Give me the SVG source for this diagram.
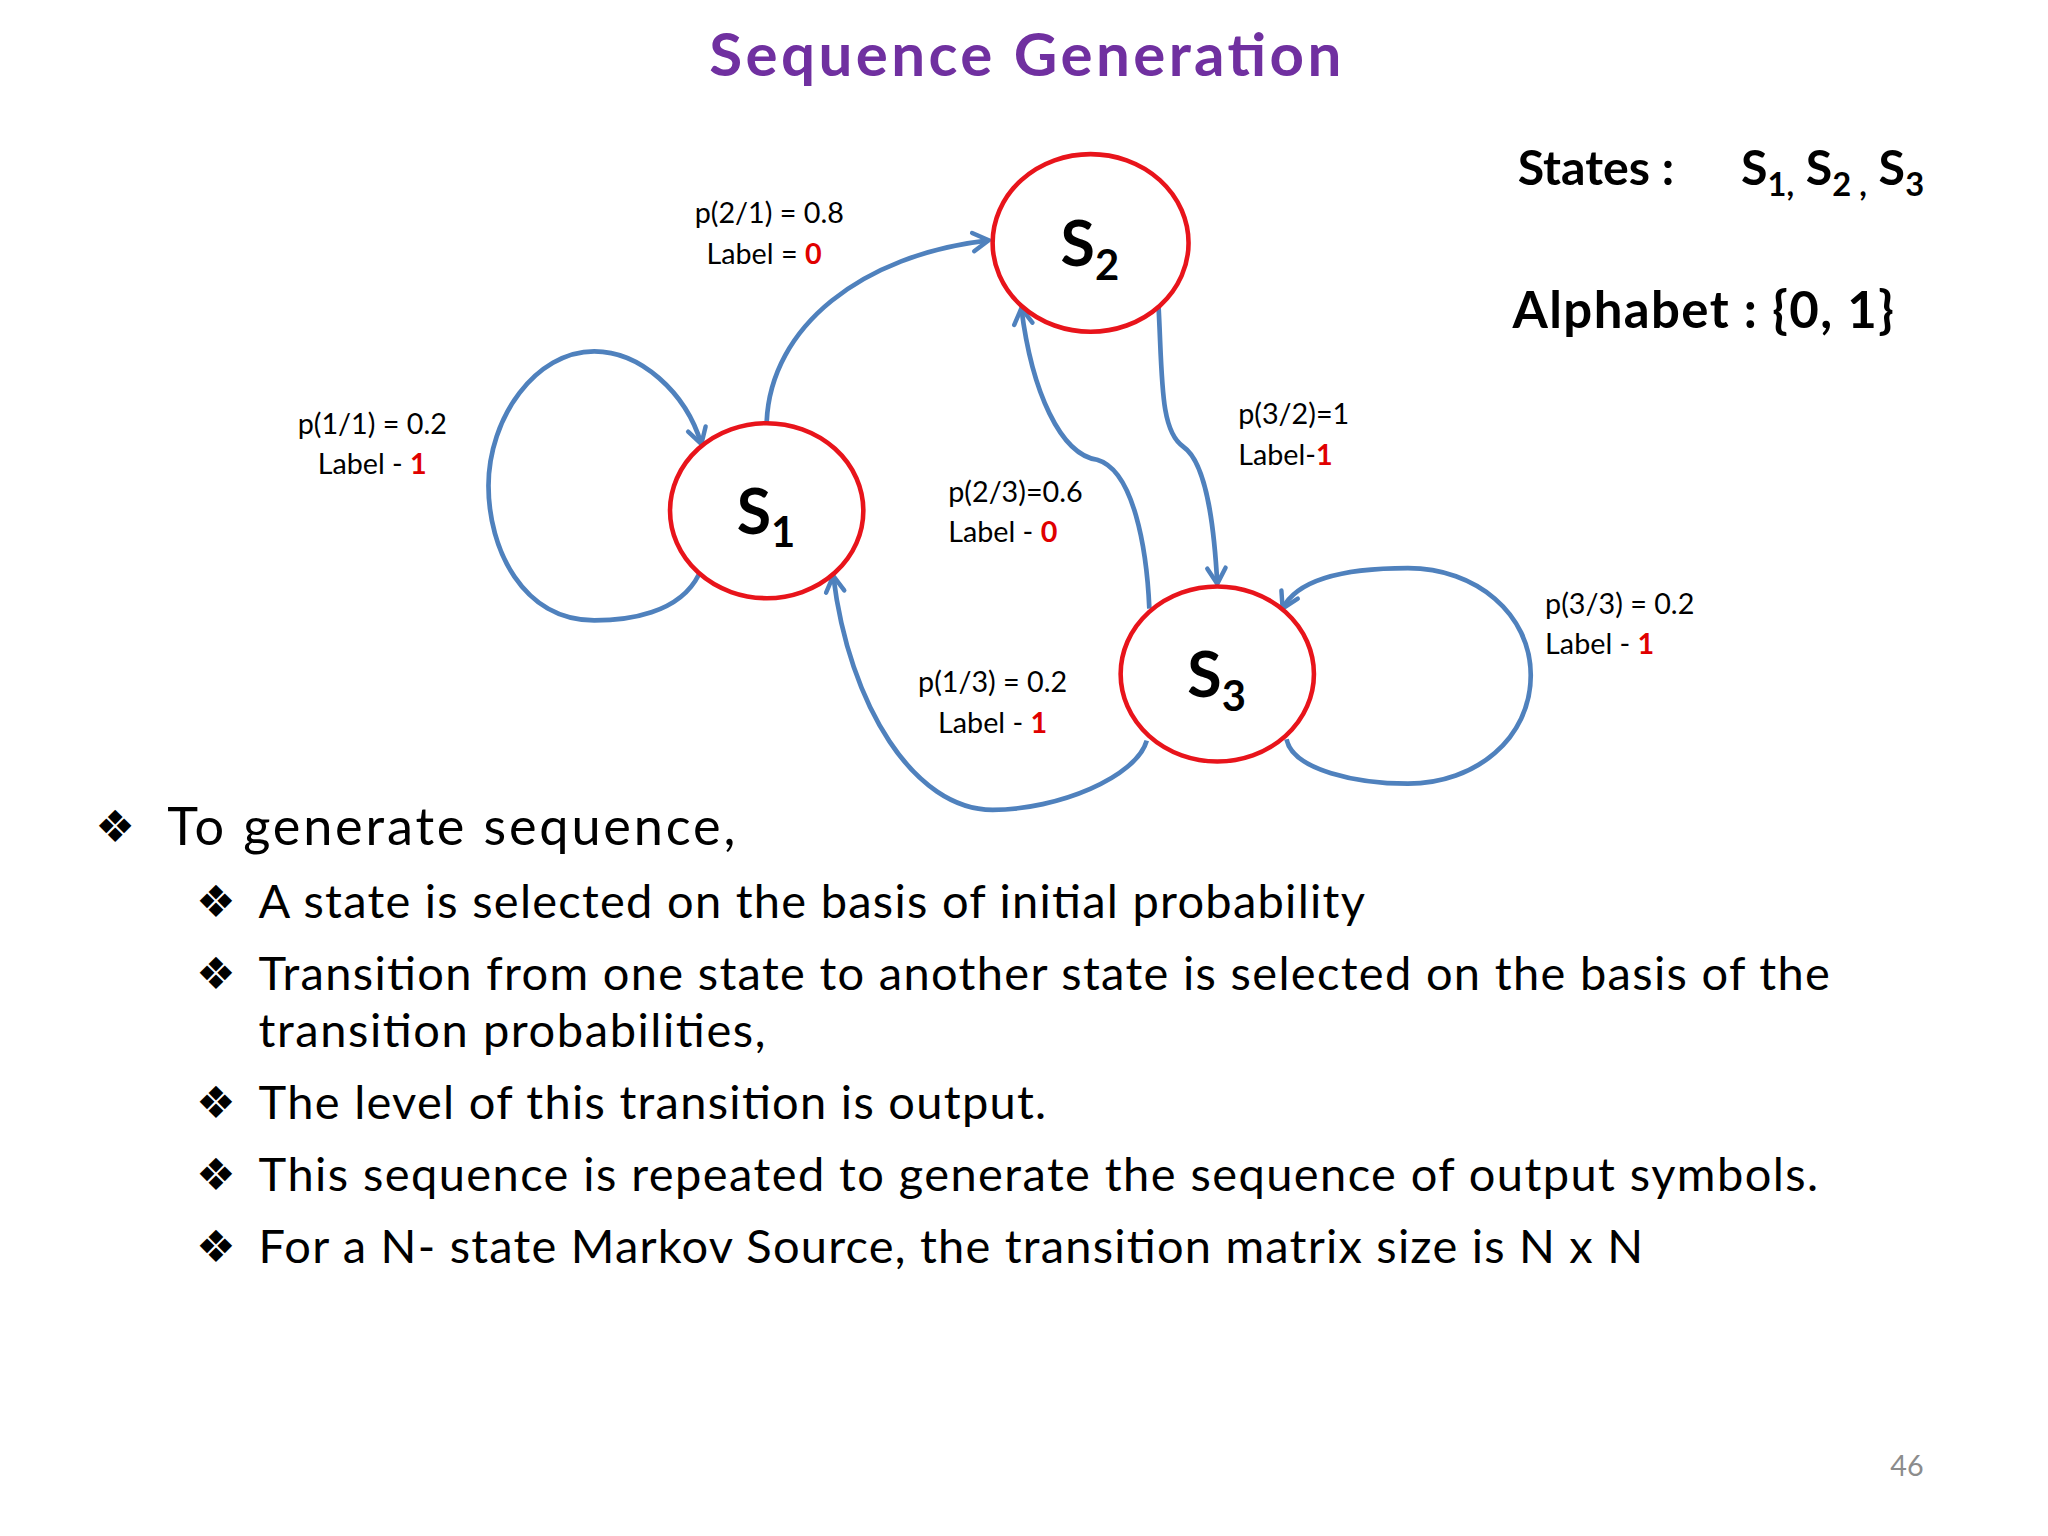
<svg xmlns="http://www.w3.org/2000/svg" width="2048" height="1536" viewBox="0 0 2048 1536">
<style>
.t{font-family:Lato,"Open Sans","Liberation Sans",sans-serif;fill:#000}
.lbl{font-size:22px}
.r{fill:#e00000;font-weight:bold}
.node{fill:#fff;stroke:#e8141b;stroke-width:3.5}
.sn{font-size:48px;font-weight:bold}
.sub{font-size:32px;font-weight:bold}
.edge{fill:none;stroke:#4f81bd;stroke-width:3.6;marker-end:url(#ah)}
.bul{font-family:"DejaVu Sans",sans-serif;font-size:34px}
.body{font-size:36px}
</style>
<defs>
<marker id="ah" viewBox="0 0 20 20" refX="16" refY="10" markerWidth="20" markerHeight="20" markerUnits="userSpaceOnUse" orient="auto">
<path d="M4,3 L16,10 L4,17" fill="none" stroke="#4f81bd" stroke-width="3.4" stroke-linecap="round"/>
</marker>
</defs>
<rect width="2048" height="1536" fill="#fff"/>
<g transform="scale(1.3061)">
<text class="t" x="785" y="58" text-anchor="middle" font-size="46" font-weight="bold" style="fill:#7030a0" textLength="484">Sequence Generation</text>

<g id="connectors">
<path class="edge" d="M535,440 C520,470 480,475 455,475 C400,475 374,420 374,372 C374,320 410,269 455,269 C490,269 525,300 537,340"/>
<path class="edge" d="M587,323 C590,250 660,195 757,184"/>
<path class="edge" d="M887,234 C890,290 888,330 906,342 C925,355 930,410 932,447"/>
<path class="edge" d="M880,466 C878,420 868,360 840,352 C812,348 790,300 782,236"/>
<path class="edge" d="M878,567 C870,595 810,620 760,620 C700,620 650,540 638,441"/>
<path class="edge" d="M985,566 C990,590 1040,600 1078,600 C1130,600 1172,565 1172,517 C1172,470 1130,435 1078,435 C1040,435 995,440 982,466"/>
</g>

<g id="S1"><ellipse class="node" cx="587" cy="391" rx="74" ry="67"/>
<text class="t sn" x="564" y="409">S<tspan class="sub" dy="10">1</tspan></text></g>
<g id="S2"><ellipse class="node" cx="835" cy="186" rx="75" ry="68"/>
<text class="t sn" x="812" y="204">S<tspan class="sub" dy="10">2</tspan></text></g>
<g id="S3"><ellipse class="node" cx="932" cy="516" rx="74" ry="67"/>
<text class="t sn" x="909" y="534">S<tspan class="sub" dy="10">3</tspan></text></g>

<g id="labels">
<text class="t lbl" x="589" y="171" text-anchor="middle">p(2/1) = 0.8</text>
<text class="t lbl" x="585" y="202" text-anchor="middle">Label = <tspan class="r">0</tspan></text>
<text class="t lbl" x="285" y="332" text-anchor="middle">p(1/1) = 0.2</text>
<text class="t lbl" x="285" y="363" text-anchor="middle">Label - <tspan class="r">1</tspan></text>
<text class="t lbl" x="948" y="325">p(3/2)=1</text>
<text class="t lbl" x="948" y="356">Label-<tspan class="r">1</tspan></text>
<text class="t lbl" x="726" y="384">p(2/3)=0.6</text>
<text class="t lbl" x="726" y="415">Label - <tspan class="r">0</tspan></text>
<text class="t lbl" x="760" y="530" text-anchor="middle">p(1/3) = 0.2</text>
<text class="t lbl" x="760" y="561" text-anchor="middle">Label - <tspan class="r">1</tspan></text>
<text class="t lbl" x="1183" y="470">p(3/3) = 0.2</text>
<text class="t lbl" x="1183" y="501">Label - <tspan class="r">1</tspan></text>
</g>

<g id="info">
<text class="t" x="1162" y="142" font-size="37" font-weight="bold">States :</text>
<text class="t" x="1333" y="142" font-size="37" font-weight="bold">S<tspan font-size="25" dy="8">1,</tspan><tspan dy="-8"> S</tspan><tspan font-size="25" dy="8">2 ,</tspan><tspan dy="-8">  S</tspan><tspan font-size="25" dy="8">3</tspan></text>
<text class="t" x="1158" y="251" font-size="39" font-weight="bold" textLength="292">Alphabet : {0, 1}</text>
</g>

<g id="bullets">
<text class="bul" x="73" y="645">❖</text>
<text class="t" x="128" y="647" font-size="40" textLength="435">To generate sequence,</text>
<text class="bul" x="150" y="702">❖</text>
<text class="t body" x="198" y="703" textLength="847">A state is selected on the basis of initial probability</text>
<text class="bul" x="150" y="757">❖</text>
<text class="t body" x="198" y="758" textLength="1203">Transition from one state to another state is selected on the basis of the</text>
<text class="t body" x="198" y="802" textLength="388">transition probabilities,</text>
<text class="bul" x="150" y="856">❖</text>
<text class="t body" x="198" y="857" textLength="603">The level of this transition is output.</text>
<text class="bul" x="150" y="911">❖</text>
<text class="t body" x="198" y="912" textLength="1194">This sequence is repeated to generate the sequence of output symbols.</text>
<text class="bul" x="150" y="966">❖</text>
<text class="t body" x="198" y="967" textLength="1060">For a N- state Markov Source, the transition matrix size  is N x N</text>
</g>
<text class="t" x="1460" y="1130" font-size="22" text-anchor="middle" style="fill:#8c8c8c">46</text>
</g>
</svg>
